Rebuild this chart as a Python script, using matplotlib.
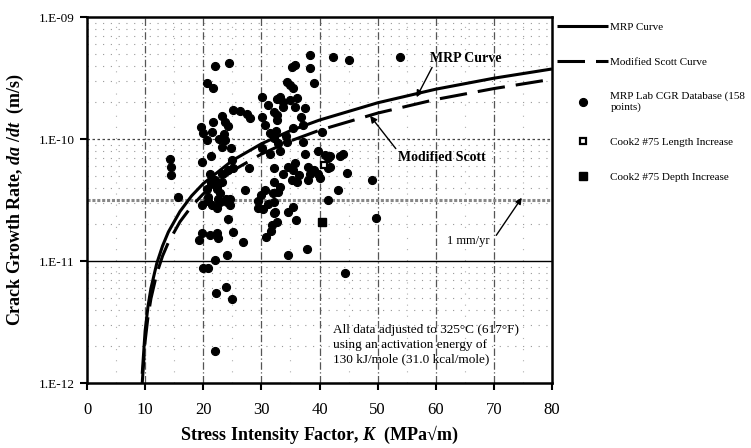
import matplotlib
matplotlib.use("Agg")
import matplotlib.pyplot as plt
from matplotlib.ticker import FixedLocator, NullFormatter

plt.rcParams['font.family'] = ['Liberation Serif', 'DejaVu Serif']
plt.rcParams['mathtext.fontset'] = 'custom'
plt.rcParams['mathtext.rm'] = 'Liberation Serif'
plt.rcParams['mathtext.it'] = 'Liberation Serif:italic'
plt.rcParams['mathtext.bf'] = 'Liberation Serif:bold'
plt.rcParams['mathtext.bfit'] = 'Liberation Serif:bold:italic'

# ---------------- data ----------------
curve_K = [9.5, 10, 10.5, 11, 12, 13, 14, 16, 18, 20, 25, 30, 35, 40, 50, 60, 70, 80]
mrp_rate = [1.19e-12, 2.67e-12, 4.27e-12, 5.97e-12, 9.55e-12, 1.33e-11, 1.73e-11,
            2.55e-11, 3.42e-11, 4.31e-11, 6.66e-11, 9.13e-11, 1.17e-10, 1.43e-10,
            1.98e-10, 2.56e-10, 3.15e-10, 3.75e-10]
scott_rate = [1.0e-12, 2.2e-12, 3.52e-12, 4.92e-12, 7.87e-12, 1.10e-11, 1.42e-11,
              2.10e-11, 2.81e-11, 3.55e-11, 5.48e-11, 7.52e-11, 9.64e-11, 1.18e-10,
              1.63e-10, 2.11e-10, 2.59e-10, 3.09e-10]

lab_K = [22.0, 24.5, 20.6, 21.6, 30.1, 31.2, 32.7, 32.1, 25.2, 26.3, 27.5, 23.2, 23.8, 24.3,
         21.6, 19.6, 20.0, 21.5, 20.6, 22.7, 23.5, 23.8, 24.7, 30.1, 30.6, 32.7, 21.3, 14.3,
         14.4, 14.4, 15.7, 21.2, 19.7, 22.9, 19.7, 21.5, 22.3, 22.9, 24.0, 24.6, 24.2, 27.1,
         27.8, 29.5, 30.2, 30.6, 32.0, 32.9, 33.2, 32.2, 32.2, 31.8, 34.5, 35.5, 35.9, 41.5,
         43.1, 44.7, 49.0, 49.7, 44.1, 41.8, 40.4, 39.0, 38.4, 38.4, 35.8, 35.2, 42.4, 45.0,
         34.4, 34.9, 35.5, 33.2, 33.8, 34.9, 36.1, 35.8, 37.5, 36.9, 32.7, 31.5, 32.1, 32.9,
         34.4, 35.5, 37.2, 37.5, 33.2, 30.1, 31.5, 39.8, 41.0, 41.5, 41.8, 43.5, 32.1, 33.8,
         34.6, 35.8, 35.5, 36.4, 35.2, 36.1, 32.1, 38.1, 38.4, 39.0, 38.1, 39.8, 41.5, 40.1,
         23.2, 24.9, 25.2, 24.3, 23.2, 22.0, 22.3, 23.2, 21.4, 19.2, 19.7, 21.2, 22.3, 22.6,
         25.2, 26.9, 20.0, 20.9, 22.0, 24.0, 22.2, 23.9, 24.9, 22.0, 30.8, 34.5, 37.8, 44.4,
         53.9, 28.1, 33.8, 32.6, 34.2, 37.2, 20.9, 22.6, 23.9, 24.6, 30.0, 29.4, 31.2, 32.4,
         32.7, 31.7, 21.9, 20.6, 20.9, 22.3]
lab_rate = [3.96e-10, 4.22e-10, 2.86e-10, 2.61e-10, 2.20e-10, 1.90e-10, 2.13e-10, 1.68e-10,
            1.73e-10, 1.71e-10, 1.60e-10, 1.55e-10, 1.39e-10, 1.28e-10, 1.39e-10, 1.25e-10,
            1.11e-10, 1.15e-10, 9.8e-11, 1.00e-10, 1.10e-10, 9.8e-11, 8.4e-11, 1.52e-10,
            1.30e-10, 1.43e-10, 7.2e-11, 6.85e-11, 5.9e-11, 5.1e-11, 3.37e-11, 5.2e-11, 6.5e-11,
            3.6e-11, 2.88e-11, 2.88e-11, 2.70e-11, 3.06e-11, 3.06e-11, 3.22e-11, 2.20e-11,
            3.82e-11, 5.75e-11, 2.70e-11, 2.65e-11, 3.82e-11, 3.59e-11, 3.70e-11, 4.06e-11,
            3.06e-11, 2.46e-11, 1.97e-11, 2.54e-11, 2.79e-11, 2.17e-11, 3.16e-11, 3.82e-11,
            5.3e-11, 4.6e-11, 2.24e-11, 7.6e-11, 7.2e-11, 1.15e-10, 2.86e-10, 3.80e-10, 4.89e-10,
            4.04e-10, 3.92e-10, 4.68e-10, 4.45e-10, 2.95e-10, 2.77e-10, 2.61e-10, 2.22e-10,
            2.02e-10, 2.09e-10, 2.16e-10, 1.84e-10, 1.79e-10, 1.52e-10, 1.57e-10, 1.11e-10,
            1.01e-10, 9.2e-11, 9.5e-11, 1.22e-10, 9.5e-11, 7.6e-11, 7.9e-11, 8.4e-11, 7.6e-11,
            7.9e-11, 7.4e-11, 6.95e-11, 5.9e-11, 7.2e-11, 5.75e-11, 5.2e-11, 5.9e-11, 6.3e-11,
            5.6e-11, 5.1e-11, 4.6e-11, 4.47e-11, 4.47e-11, 5.9e-11, 5.2e-11, 5.6e-11, 4.6e-11,
            5.2e-11, 5.75e-11, 4.76e-11, 8.65e-11, 6.7e-11, 5.75e-11, 5.6e-11, 5.2e-11, 4.6e-11,
            4.06e-11, 4.47e-11, 4.38e-11, 1.49e-11, 1.69e-11, 1.63e-11, 1.69e-11, 1.53e-11,
            1.74e-11, 1.44e-11, 8.7e-12, 8.7e-12, 1.02e-11, 1.12e-11, 5.5e-12, 6.1e-12, 4.85e-12,
            1.84e-12, 1.58e-11, 1.12e-11, 1.25e-11, 8.0e-12, 4.7e-10, 1.48e-10, 1.84e-10,
            1.17e-10, 1.06e-10, 1.31e-10, 3.12e-11, 3.2e-11, 3.25e-11, 2.9e-11, 3.5e-11, 3.1e-11,
            2.95e-11, 2.5e-11, 2.1e-11, 1.75e-11, 4.3e-11, 3.9e-11, 3.35e-11, 3.9e-11]

len_K = [40.7]
len_rate = [6.1e-11]
depth_K = [40.5]
depth_rate = [2.1e-11]

one_mm_per_year = 3.17e-11

x_ticks = [0, 10, 20, 30, 40, 50, 60, 70, 80]
y_ticks = [1e-12, 1e-11, 1e-10, 1e-9]
y_tick_labels = ['1.E-12', '1.E-11', '1.E-10', '1.E-09']

# ---------------- figure ----------------
fig = plt.figure(figsize=(7.51, 4.48), dpi=100)
ax = fig.add_axes([87/751, 1-383/448, (552-87)/751, (383-17)/448])
ax.set_yscale('log')
ax.set_xlim(0, 80)
ax.set_ylim(1e-12, 1e-9)

# grid
for xv in x_ticks[1:-1]:
    ax.axvline(xv, color='#555555', lw=0.9, ls=(0, (6, 2, 1, 2)), zorder=1)
minor_y = [m * 10.0**e for e in (-12, -11, -10) for m in range(2, 10)]
for yv in minor_y:
    ax.axhline(yv, color='#999999', lw=0.8, ls=(0, (1, 6)), zorder=1)
for xv in [5, 15, 25, 35, 45, 55, 65, 75]:
    ax.axvline(xv, color='#b0b0b0', lw=0.8, ls=(0, (1, 9)), zorder=1)
ax.axhline(1e-11, color='black', lw=1.0, zorder=1)
ax.axhline(1e-10, color='#444444', lw=0.9, ls=(0, (2, 2)), zorder=1)
ax.axhline(one_mm_per_year, color='#888888', lw=2.2, ls=(0, (1, 0.6)), zorder=1)

# curves
ax.plot(curve_K, mrp_rate, color='black', lw=2.2, label='MRP Curve', zorder=4,
        solid_capstyle='butt')
ax.plot(curve_K, scott_rate, color='black', lw=2.2, ls=(0, (9, 3.6)),
        label='Modified Scott Curve', zorder=4)

# data
ax.plot(lab_K, lab_rate, 'o', ms=5.8, mfc='black', mec='black', mew=0.8,
        label='MRP Lab CGR Database (158\npoints)', zorder=5)
ax.plot(len_K, len_rate, 's', ms=5, mfc='white', mec='black', mew=1.6,
        label='Cook2 #75 Length Increase', zorder=6)
ax.plot(depth_K, depth_rate, 's', ms=5.5, mfc='black', mec='black',
        label='Cook2 #75 Depth Increase', zorder=6)

# axes styling
for s in ax.spines.values():
    s.set_linewidth(1.8)
ax.xaxis.set_major_locator(FixedLocator(x_ticks))
ax.set_xticklabels([str(v) for v in x_ticks], fontsize=12)
ax.yaxis.set_major_locator(FixedLocator(y_ticks))
ax.set_yticklabels(y_tick_labels, fontsize=9.5)
ax.yaxis.set_minor_formatter(NullFormatter())
ax.tick_params(axis='y', which='minor', length=0)
ax.tick_params(axis='both', which='major', direction='out', length=5, width=1.5,
               pad=4)
ax.tick_params(axis='x', pad=9)

ax.set_xlabel('Stress Intensity Factor, $\\mathbfit{K}$  (MPa\u221am)', fontsize=13,
              fontweight='bold', labelpad=4)
ax.set_ylabel('Crack Growth Rate, $\\mathbfit{da}$ /$\\mathbfit{dt}$  (m/s)', fontsize=13,
              fontweight='bold', labelpad=9)

# annotations
ax.annotate('MRP Curve', xy=(56.7, 2.2e-10), xytext=(59.0, 4.6e-10), fontsize=10,
            fontweight='bold', ha='left', va='center',
            arrowprops=dict(arrowstyle='-|>', color='black', lw=1.0, shrinkA=0, shrinkB=0,
                            relpos=(0.05, 0.0)))
ax.annotate('Modified Scott', xy=(48.7, 1.55e-10), xytext=(53.5, 7.0e-11), fontsize=10,
            fontweight='bold', ha='left', va='center',
            arrowprops=dict(arrowstyle='-|>', color='black', lw=1.0, shrinkA=0, shrinkB=0,
                            relpos=(0.0, 1.0)))
ax.annotate('1 mm/yr', xy=(74.8, 3.3e-11), xytext=(62.0, 1.45e-11), fontsize=9,
            ha='left', va='center',
            arrowprops=dict(arrowstyle='-|>', color='black', lw=1.0, shrinkA=0, shrinkB=0,
                            relpos=(1.15, 1.0)))
ax.text(42.3, 2.05e-12, 'All data adjusted to 325\u00b0C (617\u00b0F)\nusing an activation energy of\n'
        '130 kJ/mole (31.0 kcal/mole)', fontsize=9.5, ha='left', va='center',
        linespacing=1.3)

leg = ax.legend(loc='upper left', bbox_to_anchor=(557/751, 1-22/448),
                bbox_transform=fig.transFigure, frameon=False,
                fontsize=8, handlelength=4.6, labelspacing=2.25, handletextpad=0.2,
                borderaxespad=0, borderpad=0)

fig.savefig('out.png', dpi=100)
